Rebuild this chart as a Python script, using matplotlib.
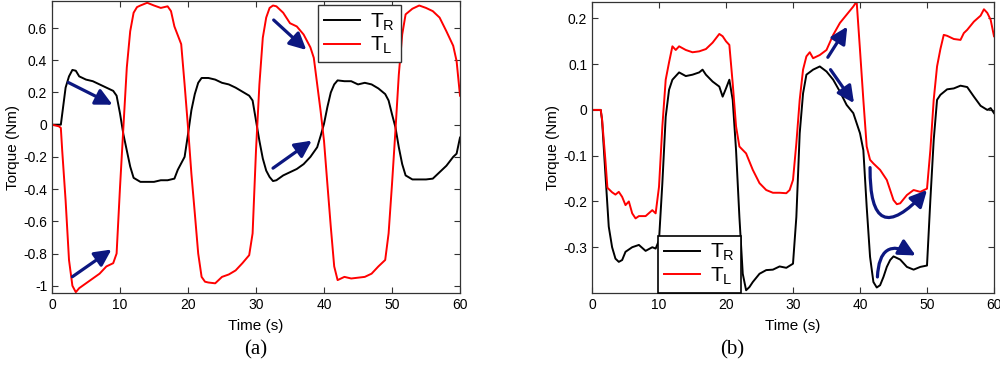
import matplotlib
matplotlib.use("Agg")
import matplotlib.pyplot as plt

# ---- data ----
# panel (a)
t_a_R = [0, 1, 1.3, 2, 2.5, 3, 3.5, 4, 5, 6, 7, 8, 9, 9.5, 10, 10.5, 11, 11.5, 12, 13, 14, 15,
         16, 17, 18, 18.5, 19, 19.5, 20, 20.5, 21, 21.5, 22, 23, 24, 25, 26, 27, 28, 29, 29.5,
         30, 30.5, 31, 31.5, 32, 32.5, 33, 34, 35, 36, 37, 38, 39, 39.5, 40, 40.5, 41, 41.5,
         42, 43, 44, 45, 46, 47, 48, 49, 49.5, 50, 50.5, 51, 51.5, 52, 53, 54, 55, 56, 57, 58,
         59, 59.5, 60]
tq_a_R = [0, 0, 0.0, 0.23, 0.30, 0.34, 0.335, 0.30, 0.28, 0.27, 0.25, 0.23, 0.21, 0.18, 0.07,
          -0.06, -0.16, -0.26, -0.33, -0.355, -0.355, -0.355, -0.345, -0.345, -0.335, -0.28,
          -0.24, -0.20, -0.06, 0.09, 0.19, 0.26, 0.29, 0.29, 0.28, 0.26, 0.25, 0.23, 0.205, 0.18,
          0.15, 0.025, -0.10, -0.21, -0.285, -0.325, -0.35, -0.345, -0.315, -0.295, -0.275,
          -0.245, -0.20, -0.14, -0.07, 0.005, 0.11, 0.20, 0.25, 0.275, 0.27, 0.27, 0.25, 0.26,
          0.25, 0.225, 0.19, 0.15, 0.065, -0.015, -0.14, -0.245, -0.315, -0.34, -0.34, -0.34,
          -0.335, -0.295, -0.255, -0.20, -0.18, -0.08]

t_a_L = [0, 1, 1.3, 1.5, 2, 2.5, 3, 3.5, 4, 5, 6, 7, 8, 9, 9.5, 10, 10.5, 11, 11.5, 12, 12.5,
         13, 14, 15, 16, 17, 17.5, 18, 19, 19.5, 20, 20.5, 21, 21.5, 22, 22.5, 23, 24, 25, 26,
         27, 28, 29, 29.5, 30, 30.5, 31, 31.5, 32, 32.5, 33, 34, 35, 36, 37, 38, 38.5, 39, 39.5,
         40, 40.5, 41, 41.5, 42, 43, 44, 45, 46, 47, 48, 49, 49.5, 50, 50.5, 51, 51.5, 52, 53,
         54, 55, 56, 57, 58, 59, 59.5, 60]
tq_a_L = [0, -0.01, -0.02, -0.16, -0.47, -0.84, -1.0, -1.04, -1.015, -0.985, -0.955, -0.925,
          -0.88, -0.86, -0.80, -0.39, -0.015, 0.355, 0.58, 0.695, 0.73, 0.74, 0.757, 0.74, 0.725,
          0.735, 0.705, 0.61, 0.50, 0.25, -0.015, -0.305, -0.55, -0.80, -0.945, -0.975, -0.98,
          -0.985, -0.945, -0.93, -0.905, -0.86, -0.81, -0.675, -0.16, 0.25, 0.54, 0.665, 0.725,
          0.74, 0.735, 0.695, 0.63, 0.61, 0.56, 0.48, 0.415, 0.25, 0.085, -0.10, -0.37, -0.635,
          -0.88, -0.965, -0.945, -0.955, -0.95, -0.945, -0.925, -0.88, -0.84, -0.675, -0.37,
          -0.04, 0.31, 0.56, 0.685, 0.72, 0.74, 0.725, 0.705, 0.665, 0.58, 0.49, 0.395, 0.18]

# panel (b)
t_b_R = [0, 1, 1.3, 1.5, 2, 2.5, 3, 3.5, 4, 4.5, 5, 6, 7, 8, 9, 9.5, 10, 10.5, 11, 11.5, 12,
         13, 14, 15, 16, 16.5, 17, 18, 19, 19.5, 20, 20.5, 21, 21.5, 22, 22.5, 23, 23.5, 24, 25,
         26, 27, 28, 29, 30, 30.5, 31, 31.5, 32, 33, 34, 35, 36, 37, 38, 39, 39.5, 40, 40.5, 41,
         41.5, 42, 42.5, 43, 43.5, 44, 44.5, 45, 46, 47, 48, 49, 50, 50.5, 51, 51.5, 52, 53, 54,
         55, 56, 57, 58, 59, 59.5, 60]
tq_b_R = [0, 0, 0, -0.022, -0.14, -0.255, -0.30, -0.325, -0.332, -0.328, -0.31, -0.30, -0.295,
          -0.308, -0.30, -0.303, -0.285, -0.16, -0.015, 0.044, 0.066, 0.082, 0.074, 0.077, 0.082,
          0.088, 0.077, 0.062, 0.051, 0.029, 0.047, 0.066, 0.022, -0.088, -0.234, -0.358,
          -0.394, -0.387, -0.376, -0.358, -0.35, -0.349, -0.342, -0.345, -0.336, -0.234, -0.051,
          0.036, 0.077, 0.088, 0.095, 0.084, 0.066, 0.04, 0.011, -0.007, -0.029, -0.051, -0.088,
          -0.212, -0.321, -0.376, -0.388, -0.383, -0.365, -0.343, -0.328, -0.32, -0.327, -0.343,
          -0.349, -0.343, -0.34, -0.197, -0.066, 0.022, 0.033, 0.045, 0.047, 0.053, 0.05, 0.029,
          0.009, 0.0, 0.004, -0.007]

t_b_L = [0, 1, 1.3, 1.5, 2, 2.3, 3, 3.5, 4, 4.5, 5, 5.5, 6, 6.5, 7, 8, 9, 9.5, 10, 10.5, 11,
         11.5, 12, 12.5, 13, 14, 15, 16, 17, 18, 19, 19.5, 20, 20.5, 21, 21.5, 22, 23, 24, 25,
         26, 27, 28, 29, 29.5, 30, 30.5, 31, 31.5, 32, 32.5, 33, 34, 35, 36, 37, 38, 39, 39.5,
         40, 40.5, 41, 41.5, 42, 43, 44, 45, 45.5, 46, 47, 48, 49, 50, 50.5, 51, 51.5, 52, 52.5,
         53, 54, 55, 55.5, 56, 57, 58, 58.5, 59, 59.5, 60]
tq_b_L = [0, 0, 0, -0.02, -0.11, -0.17, -0.18, -0.185, -0.179, -0.19, -0.208, -0.20, -0.226,
          -0.237, -0.232, -0.232, -0.219, -0.226, -0.168, -0.036, 0.066, 0.104, 0.139, 0.131,
          0.139, 0.131, 0.126, 0.128, 0.133, 0.147, 0.166, 0.161, 0.15, 0.142, 0.058, -0.036,
          -0.08, -0.095, -0.131, -0.16, -0.175, -0.181, -0.181, -0.182, -0.175, -0.153, -0.073,
          0.022, 0.088, 0.117, 0.126, 0.113, 0.12, 0.131, 0.164, 0.19, 0.208, 0.226, 0.237, 0.131,
          0.022, -0.08, -0.109, -0.117, -0.131, -0.153, -0.197, -0.206, -0.204, -0.186, -0.175,
          -0.179, -0.172, -0.088, 0.022, 0.095, 0.133, 0.164, 0.162, 0.155, 0.153, 0.168, 0.175,
          0.193, 0.206, 0.22, 0.212, 0.197, 0.161]

# annotation arrows: (t_start, v_start, t_end, v_end)
arrows_a = [(2.4, 0.262, 8.9, 0.124), (3.0, -0.944, 8.75, -0.775),
            (32.6, 0.65, 37.4, 0.464), (32.5, -0.27, 38.2, -0.099)]
arrows_b = [(35.2, 0.115, 38.1, 0.182), (35.6, 0.088, 39.1, 0.015)]
curved_b = [(41.5, -0.126, 50.0, -0.175, 1.3), (42.6, -0.365, 48.3, -0.318, -0.8)]

NAVY = "#0c1780"
plt.rcParams["font.family"] = ["Liberation Sans Narrow", "Liberation Sans", "DejaVu Sans"]
plt.rcParams["axes.unicode_minus"] = False
plt.rcParams["mathtext.default"] = "regular"

fig = plt.figure(figsize=(10, 3.85), dpi=100)
ax1 = fig.add_axes([0.052, 0.239, 0.408, 0.758])
ax2 = fig.add_axes([0.592, 0.239, 0.402, 0.756])


def style_axes(ax, yticks, ylim):
    ax.set_xlim(0, 60)
    ax.set_ylim(*ylim)
    ax.set_xticks(range(0, 61, 10))
    ax.set_yticks(yticks)
    ax.set_yticklabels(["%g" % v for v in yticks])
    ax.tick_params(direction="in", top=True, right=True, length=4, width=0.8,
                   labelsize=10, colors="#333333", labelcolor="black")
    for s in ax.spines.values():
        s.set_color("#333333")
        s.set_linewidth(0.9)
    ax.set_xlabel("Time (s)", fontsize=11, labelpad=5)
    ax.set_ylabel("Torque (Nm)", fontsize=11, labelpad=2)


arrow_kw = dict(arrowstyle="-|>,head_length=1.0,head_width=0.5",
                color=NAVY, lw=2.3, shrinkA=0, shrinkB=0)
leg_kw = dict(fontsize=15, fancybox=False, framealpha=1, handlelength=1.7,
              handletextpad=0.5, labelspacing=0.1, borderpad=0.3, borderaxespad=0)

ax1.plot(t_a_R, tq_a_R, color="black", lw=1.4, label="$T_R$")
ax1.plot(t_a_L, tq_a_L, color="red", lw=1.4, label="$T_L$")
style_axes(ax1, [-1, -0.8, -0.6, -0.4, -0.2, 0, 0.2, 0.4, 0.6], (-1.045, 0.767))
for x0, y0, x1, y1 in arrows_a:
    ax1.annotate("", xy=(x1, y1), xytext=(x0, y0), arrowprops=arrow_kw)
ax1.legend(loc="upper left", bbox_to_anchor=(0.652, 0.986), edgecolor="#333333", **leg_kw)

ax2.plot(t_b_R, tq_b_R, color="black", lw=1.4, label="$T_R$")
ax2.plot(t_b_L, tq_b_L, color="red", lw=1.4, label="$T_L$")
style_axes(ax2, [-0.3, -0.2, -0.1, 0, 0.1, 0.2], (-0.40, 0.236))
for x0, y0, x1, y1 in arrows_b:
    ax2.annotate("", xy=(x1, y1), xytext=(x0, y0), arrowprops=arrow_kw)
for x0, y0, x1, y1, rad in curved_b:
    ax2.annotate("", xy=(x1, y1), xytext=(x0, y0),
                 arrowprops=dict(arrow_kw, connectionstyle="arc3,rad=%g" % rad))
leg = ax2.legend(loc="lower left", bbox_to_anchor=(0.164, 0.0), edgecolor="black", **leg_kw)
leg.get_frame().set_linewidth(1.2)

fig.text(0.256, 0.09, "(a)", ha="center", va="center", fontsize=15, family="Liberation Serif")
fig.text(0.732, 0.09, "(b)", ha="center", va="center", fontsize=15, family="Liberation Serif")

fig.savefig("out.png", dpi=100)
